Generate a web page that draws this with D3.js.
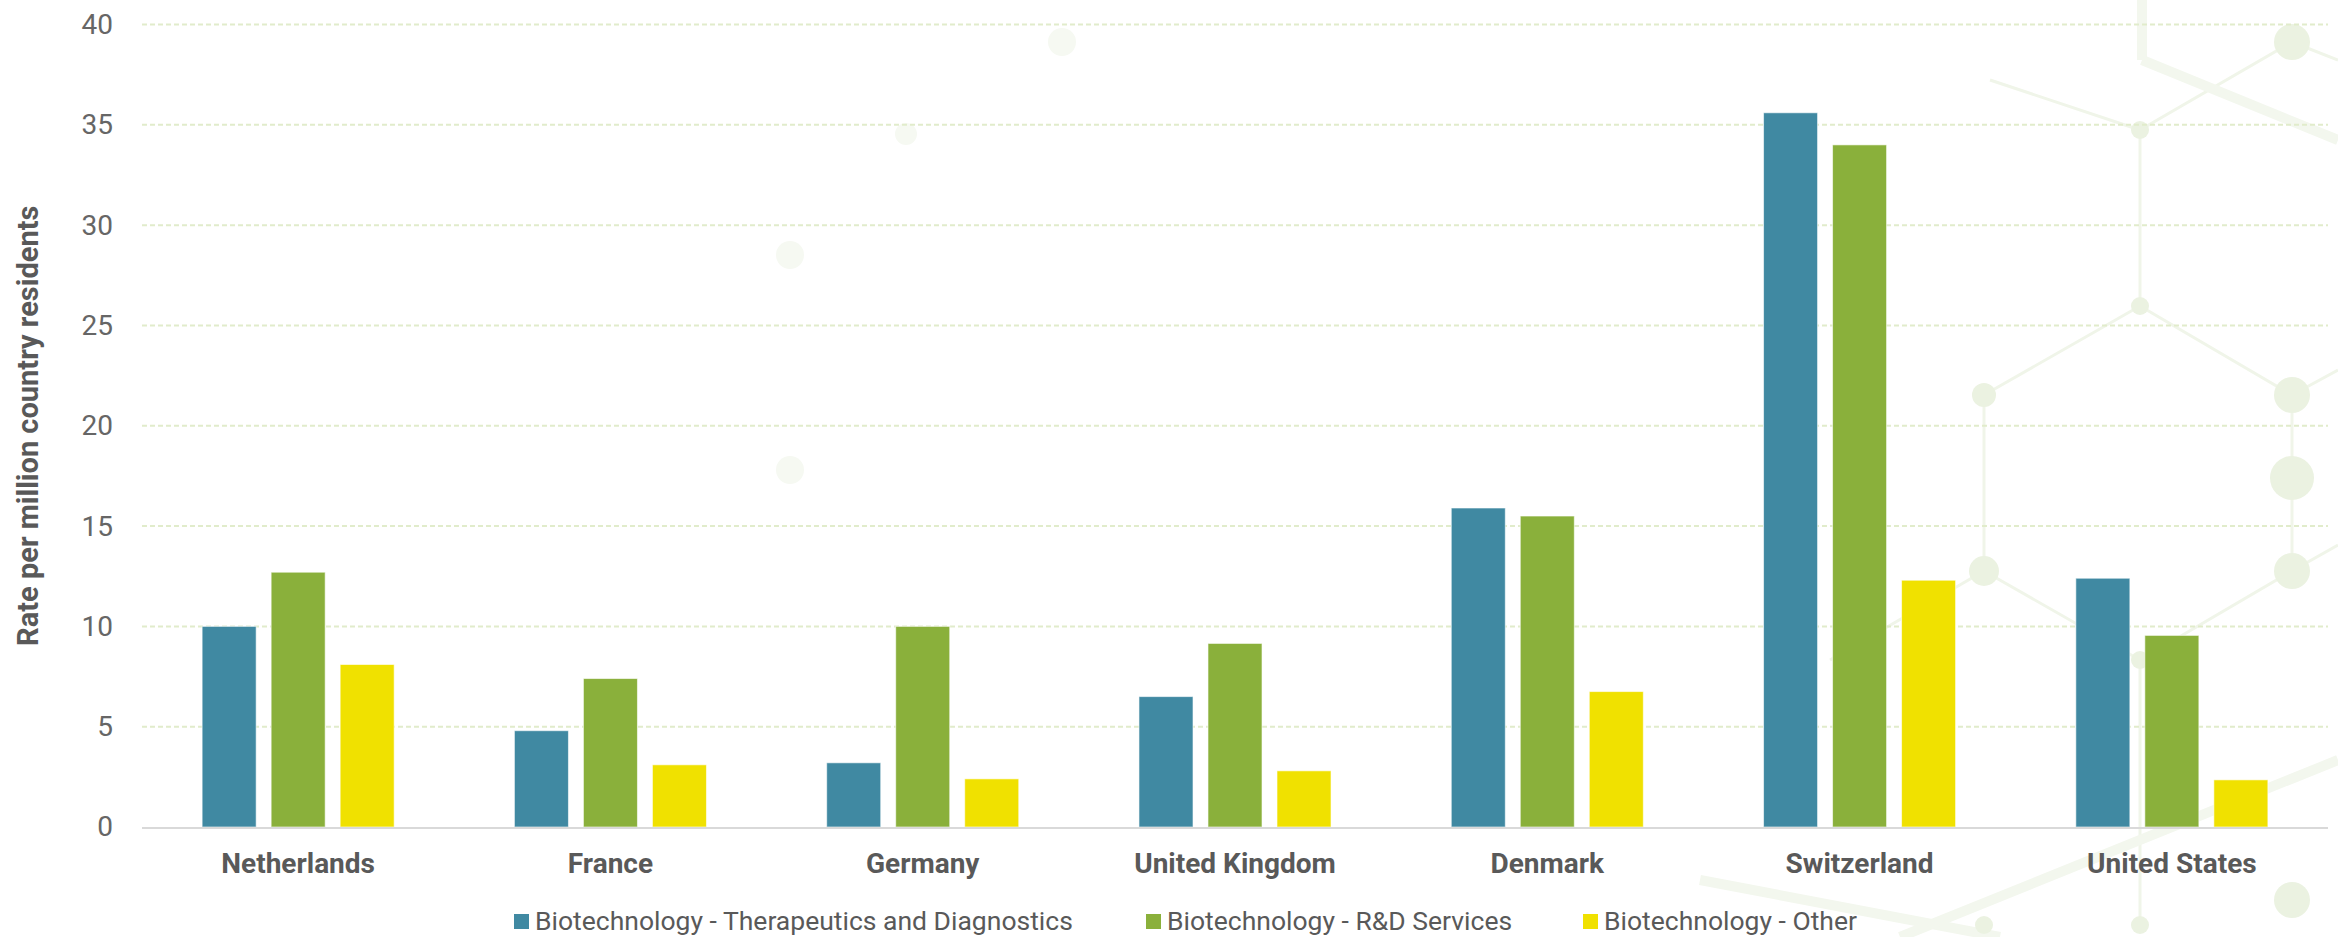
<!DOCTYPE html>
<html>
<head>
<meta charset="utf-8">
<script src="https://cdn.jsdelivr.net/npm/d3@7"></script>
<style>
  html, body { margin: 0; padding: 0; background: #ffffff; }
  svg { display: block; }
  text { font-family: Roboto, "Noto Sans", sans-serif; }
</style>
</head>
<body>
<svg id="chart" width="2338" height="937"></svg>
<script>
const countries = ["Netherlands", "France", "Germany", "United Kingdom", "Denmark", "Switzerland", "United States"];
const seriesNames = ["Biotechnology - Therapeutics and Diagnostics", "Biotechnology - R&D Services", "Biotechnology - Other"];
const therapeutics = [10.0, 4.8, 3.2, 6.5, 15.9, 35.6, 12.4];
const rdServices   = [12.7, 7.4, 10.0, 9.15, 15.5, 34.0, 9.55];
const other        = [8.1, 3.1, 2.4, 2.8, 6.75, 12.3, 2.35];
const yTicks = [0, 5, 10, 15, 20, 25, 30, 35, 40];
const seriesColors = ["#4089A2", "#8AB03B", "#F0E100"];
const yTitle = "Rate per million country residents";

const seriesValues = [therapeutics, rdServices, other];

const W = 2338, H = 937;
const plot = { left: 142, right: 2328, top: 24.5, bottom: 827 };

const svg = d3.select("#chart");

// faint decorative molecule background (not data)
const bgNodes = [
  [2292, 42, 18], [2140, 130, 9], [2140, 306, 9], [1984, 395, 12], [2292, 395, 18],
  [1984, 571, 15], [2292, 571, 18], [2292, 478, 22], [2140, 660, 9], [2292, 900, 18],
  [2140, 925, 9], [1984, 925, 9]
];
const bgFaintNodes = [[1062, 42, 14], [906, 134, 11], [790, 255, 14], [790, 470, 14]];
const bgLinks = [
  [2140, 130, 2292, 42], [2140, 130, 2140, 306], [2140, 306, 1984, 395], [2140, 306, 2292, 395],
  [1984, 395, 1984, 571], [2292, 395, 2292, 571], [1984, 571, 2140, 660], [2292, 571, 2140, 660],
  [2140, 660, 2140, 925], [1984, 571, 1830, 660], [2292, 571, 2338, 545], [2292, 42, 2338, 60],
  [2292, 395, 2338, 370], [2140, 130, 1990, 80]
];
const bgThick = [
  [2142, 0, 2142, 60], [2142, 60, 2338, 140], [1700, 880, 2000, 937], [1900, 937, 2338, 760]
];
const bg = svg.append("g").attr("class", "bg");
bg.selectAll("line.thin").data(bgLinks).join("line").attr("class", "thin")
  .attr("x1", d => d[0]).attr("y1", d => d[1]).attr("x2", d => d[2]).attr("y2", d => d[3])
  .attr("stroke", "#F0F5E9").attr("stroke-width", 3);
bg.selectAll("line.thick").data(bgThick).join("line").attr("class", "thick")
  .attr("x1", d => d[0]).attr("y1", d => d[1]).attr("x2", d => d[2]).attr("y2", d => d[3])
  .attr("stroke", "#F3F7EE").attr("stroke-width", 10);
bg.selectAll("circle.n").data(bgNodes).join("circle").attr("class", "n")
  .attr("cx", d => d[0]).attr("cy", d => d[1]).attr("r", d => d[2])
  .attr("fill", "#EBF2E1");
bg.selectAll("circle.f").data(bgFaintNodes).join("circle").attr("class", "f")
  .attr("cx", d => d[0]).attr("cy", d => d[1]).attr("r", d => d[2])
  .attr("fill", "#F6F9F2");

const x0 = d3.scaleBand().domain(countries).range([plot.left, plot.right]).paddingInner(0).paddingOuter(0);
const groupWidth = x0.bandwidth() * 0.615;
const x1 = d3.scaleBand().domain(seriesNames).range([0, groupWidth]).paddingInner(0.217).paddingOuter(0);
const y = d3.scaleLinear().domain([0, 40]).range([plot.bottom, plot.top]);

// gridlines
const grid = svg.append("g").attr("class", "grid");
grid.selectAll("line")
  .data(yTicks.filter(t => t > 0))
  .join("line")
  .attr("x1", plot.left).attr("x2", plot.right)
  .attr("y1", d => y(d)).attr("y2", d => y(d))
  .attr("stroke", "#E1ECCB")
  .attr("stroke-width", 2)
  .attr("stroke-dasharray", "5,3");

// y axis labels
const yAxis = d3.axisLeft(y).tickValues(yTicks).tickSize(0).tickPadding(0);
const yG = svg.append("g").attr("transform", `translate(${plot.left - 29},0)`).call(yAxis);
yG.select(".domain").remove();
yG.selectAll("text")
  .attr("font-size", 28)
  .attr("fill", "#666666")
  .attr("font-family", "Roboto, sans-serif");

// bars
const groups = svg.append("g").selectAll("g")
  .data(countries)
  .join("g")
  .attr("transform", d => `translate(${x0(d) + (x0.bandwidth() - groupWidth) / 2},0)`);

groups.selectAll("rect")
  .data((c, i) => seriesNames.map((s, j) => ({ series: s, value: seriesValues[j][i], color: seriesColors[j] })))
  .join("rect")
  .attr("x", d => x1(d.series))
  .attr("width", x1.bandwidth())
  .attr("y", d => y(d.value))
  .attr("height", d => y(0) - y(d.value))
  .attr("fill", d => d.color)
  .attr("stroke", "#ffffff")
  .attr("stroke-opacity", 0.6)
  .attr("stroke-width", 1);

// baseline
svg.append("line")
  .attr("x1", plot.left).attr("x2", plot.right)
  .attr("y1", y(0) + 1).attr("y2", y(0) + 1)
  .attr("stroke", "#D9D9D9").attr("stroke-width", 2);

// x axis labels
const xAxis = d3.axisBottom(x0).tickSize(0).tickPadding(0);
const xG = svg.append("g").attr("transform", `translate(0,${plot.bottom + 26})`).call(xAxis);
xG.select(".domain").remove();
xG.selectAll("text")
  .attr("font-size", 28)
  .attr("font-weight", "bold")
  .attr("fill", "#595959")
  .attr("font-family", "Roboto, sans-serif");

// y title
svg.append("text")
  .attr("transform", `translate(38,${(plot.top + plot.bottom) / 2}) rotate(-90)`)
  .attr("text-anchor", "middle")
  .attr("font-size", 29)
  .attr("font-weight", "bold")
  .attr("fill", "#595959")
  .text(yTitle);

// legend
const legendX = [514, 1146, 1583];
const legend = svg.append("g").selectAll("g")
  .data(seriesNames)
  .join("g")
  .attr("transform", (d, i) => `translate(${legendX[i]},914)`);
legend.append("rect")
  .attr("width", 15).attr("height", 15)
  .attr("fill", (d, i) => seriesColors[i]);
legend.append("text")
  .attr("x", 21).attr("y", 16)
  .attr("font-size", 26.5)
  .attr("fill", "#595959")
  .text(d => d);
</script>
</body>
</html>
